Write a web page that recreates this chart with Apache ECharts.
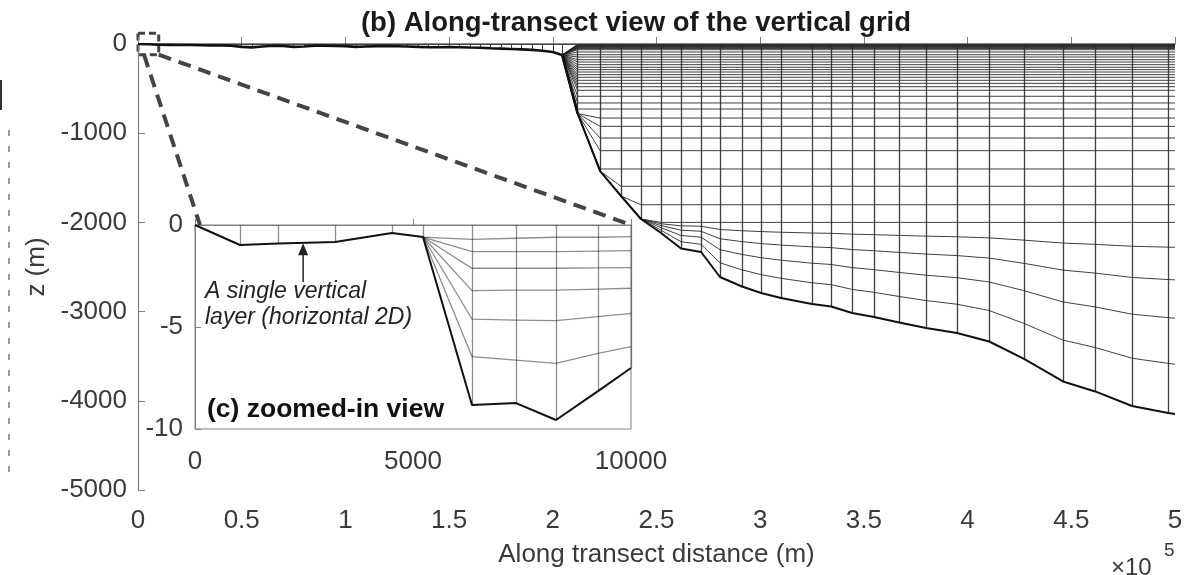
<!DOCTYPE html>
<html>
<head>
<meta charset="utf-8">
<title>Along-transect view of the vertical grid</title>
<script src="https://cdn.jsdelivr.net/npm/echarts@6/dist/echarts.min.js"></script>
<style>
	html, body { margin: 0; padding: 0; background: #fff; }
	#chart { width: 1201px; height: 575px; }
</style>
</head>
<body>
<div id="chart"></div>
<script>
// shelf part of the transect: one layer only (x in km, bottom z in m)
var shelfX = [0, 5, 10, 15, 20, 25, 30, 35, 40, 45, 50, 55, 60, 65, 70, 75, 80, 85, 90, 95, 100,
	105, 110, 115, 120, 125, 130, 135, 140, 145, 150, 155, 160, 165, 170, 175, 180, 185, 190, 195, 200, 204.5];
var shelfZ = [0, -3, -8, -10, -12, -12, -14, -15, -16, -20, -32, -38, -28, -20, -22, -32, -28, -20, -20, -22, -24,
	-32, -28, -24, -24, -26, -28, -32, -35, -36, -34, -36, -40, -42, -48, -52, -56, -60, -66, -75, -90, -123];

// slope and deep part (x in km, bottom z in m)
var deepX = [212, 222.8, 232.9, 242.5, 252.2, 261.8, 271.5, 280.6, 291.2, 300.4, 310, 325,
	334.2, 344.3, 354.9, 367, 380, 394.9, 410.4, 427.2, 446, 461.5, 479.3, 496.7];
var deepZ = [-780, -1424, -1704, -1962, -2119, -2293, -2332, -2612, -2719, -2791, -2847, -2915,
	-2943, -3015, -3060, -3122, -3184, -3240, -3335, -3531, -3783, -3895, -4058, -4136];
var endX = 500,
	endZ = -4148;

// z-levels above the sigma zone, sigma zone top and layer fractions
var zLevels = [-4, -8, -13, -18, -24, -30, -37, -44, -52, -64, -90, -120, -146, -176, -202, -232,
	-261, -288, -314, -344, -373, -407, -441, -479, -519, -586, -661, -729, -830, -923, -1054,
	-1196, -1401, -1595, -1802, -2000];
var sigmaTop = -2000;
var sigmaFrac = [0.13, 0.30, 0.50, 0.74];

var xTickLabels = ['0', '0.5', '1', '1.5', '2', '2.5', '3', '3.5', '4', '4.5', '5'];
var yTickLabels = ['-5000', '-4000', '-3000', '-2000', '-1000', '0'];

// inset (c): first 10 km (x in m, z in m)
var insetX = [0, 1032, 1904, 3211, 4518, 5229, 6353, 7362, 8280, 9243, 10000];
var insetZ = [0, -0.98, -0.91, -0.83, -0.39, -0.59, -8.82, -8.73, -9.56, -8.14, -7.01];
var insetBreak = 5;
var insetLayers = [
	[-0.70, -0.65, -0.60, -0.60, -0.57],
	[-1.31, -1.31, -1.31, -1.28, -1.26],
	[-2.12, -2.12, -2.12, -2.10, -2.09],
	[-3.22, -3.19, -3.19, -3.14, -3.10],
	[-4.61, -4.66, -4.69, -4.49, -4.33],
	[-6.45, -6.62, -6.78, -6.29, -5.96]
];
var insetTickLabels = ['0', '5000', '10000'];
var insetYLabels = ['-10', '-5', '0'];

// dashed box marking the zoomed region on the main axes
var zoomBoxX = [0, 10000],
	zoomBoxZ = [120, -120];

var font = "'Liberation Sans', Arial, Helvetica, sans-serif";
var axisGray = '#808080',
	labelGray = '#3a3a3a';

var chart = echarts.init(document.getElementById('chart'));

function shelfColumns() {
	var cols = [];
	for (var i = 0; i < shelfX.length; i++) cols.push([shelfX[i] * 1000, shelfZ[i]]);
	return cols;
}

function deepColumns() {
	var cols = [];
	for (var j = 0; j < deepX.length; j++) cols.push([deepX[j] * 1000, deepZ[j]]);
	return cols;
}

function mainLevelLines() {
	var sb = [shelfX[shelfX.length - 1] * 1000, shelfZ[shelfZ.length - 1]];
	var out = [];
	zLevels.forEach(function(z) {
		var c = [sb];
		for (var i = 0; i < deepX.length; i++) c.push([deepX[i] * 1000, Math.max(z, deepZ[i])]);
		c.push([endX * 1000, Math.max(z, endZ)]);
		out.push({ coords: c });
	});
	sigmaFrac.forEach(function(f) {
		var c = [];
		for (var i = 0; i < deepX.length; i++) {
			var h = deepZ[i];
			c.push([deepX[i] * 1000, h < sigmaTop ? sigmaTop + f * (h - sigmaTop) : h]);
		}
		c.push([endX * 1000, sigmaTop + f * (endZ - sigmaTop)]);
		out.push({ coords: c });
	});
	return out;
}

function verticals(cols) {
	return cols.map(function(p) {
		return { coords: [[p[0], 0], p] };
	});
}

function insetLayerLines() {
	var sb = [insetX[insetBreak], insetZ[insetBreak]];
	return insetLayers.map(function(row) {
		var c = [sb];
		for (var i = 0; i < row.length; i++) c.push([insetX[insetBreak + 1 + i], row[i]]);
		return { coords: c };
	});
}

var shelfCols = shelfColumns(),
	deepCols = deepColumns();
var shelfLine = shelfCols.concat([deepCols[0]]);
var deepLine = [shelfCols[shelfCols.length - 1]].concat(deepCols, [[endX * 1000, endZ]]);
var insetCols = insetX.map(function(x, i) { return [x, insetZ[i]]; });

var meshStyle = { color: '#1e1e1e', width: 1, opacity: 0.85 };

var option = {
	animation: false,
	backgroundColor: '#fff',
	title: {
		text: '(b) Along-transect view of the vertical grid',
		left: 631,
		top: 4,
		textAlign: 'center',
		textStyle: { fontFamily: font, fontSize: 27.5, fontWeight: 'bold', color: '#1a1a1a' }
	},
	grid: [{
		left: 138, right: 26, top: 44, bottom: 85
	}, {
		left: 195, top: 225, width: 436, height: 204,
		show: true, backgroundColor: '#fff', borderColor: axisGray, borderWidth: 1
	}],
	xAxis: [{
		type: 'value', gridIndex: 0, min: 0, max: 500000, interval: 50000,
		name: 'Along transect distance (m)', nameLocation: 'middle', nameGap: 52,
		nameTextStyle: { fontFamily: font, fontSize: 26, color: labelGray },
		axisLine: { show: true, lineStyle: { color: axisGray, width: 1.2 } },
		axisTick: { show: true, inside: true, length: 7, lineStyle: { color: axisGray } },
		axisLabel: {
			margin: 18, fontFamily: font, fontSize: 26, color: labelGray,
			formatter: function(v) { return xTickLabels[Math.round(v / 50000)]; }
		},
		splitLine: { show: false }
	}, {
		type: 'value', gridIndex: 1, min: 0, max: 10000, interval: 5000,
		axisLine: { show: true, lineStyle: { color: axisGray } },
		axisTick: { show: true, inside: true, length: 6, lineStyle: { color: axisGray } },
		axisLabel: {
			margin: 20, fontFamily: font, fontSize: 26, color: labelGray,
			formatter: function(v) { return insetTickLabels[Math.round(v / 5000)]; }
		},
		splitLine: { show: false }
	}],
	yAxis: [{
		type: 'value', gridIndex: 0, min: -5000, max: 0, interval: 1000,
		name: 'z (m)', nameLocation: 'middle', nameRotate: 90, nameGap: 88,
		nameTextStyle: { fontFamily: font, fontSize: 26, color: labelGray },
		axisLine: { show: true, lineStyle: { color: axisGray, width: 1.2 } },
		axisTick: { show: true, inside: true, length: 7, lineStyle: { color: axisGray } },
		axisLabel: {
			margin: 11, fontFamily: font, fontSize: 26, color: labelGray,
			formatter: function(v) { return yTickLabels[Math.round((v + 5000) / 1000)]; }
		},
		splitLine: { show: false }
	}, {
		type: 'value', gridIndex: 1, min: -10, max: 0, interval: 5,
		axisLine: { show: true, lineStyle: { color: axisGray } },
		axisTick: { show: true, inside: true, length: 6, lineStyle: { color: axisGray } },
		axisLabel: {
			margin: 12, fontFamily: font, fontSize: 26, color: labelGray,
			formatter: function(v) { return insetYLabels[Math.round((v + 10) / 5)]; }
		},
		splitLine: { show: false }
	}],
	series: [{
		name: 'levels', type: 'lines', coordinateSystem: 'cartesian2d', xAxisIndex: 0, yAxisIndex: 0,
		polyline: true, silent: true, data: mainLevelLines(), lineStyle: meshStyle
	}, {
		name: 'shelf columns', type: 'lines', coordinateSystem: 'cartesian2d', xAxisIndex: 0, yAxisIndex: 0,
		silent: true, data: verticals(shelfCols), lineStyle: meshStyle
	}, {
		name: 'deep columns', type: 'lines', coordinateSystem: 'cartesian2d', xAxisIndex: 0, yAxisIndex: 0,
		silent: true, data: verticals(deepCols), lineStyle: { color: '#2a2a2a', width: 1.3, opacity: 0.9 }
	}, {
		name: 'surface', type: 'line', xAxisIndex: 0, yAxisIndex: 0, symbol: 'none', silent: true,
		data: [[0, 0], [endX * 1000, 0]], lineStyle: { color: '#333', width: 1.5 }
	}, {
		name: 'shelf bottom', type: 'line', xAxisIndex: 0, yAxisIndex: 0, symbol: 'none', silent: true,
		data: shelfLine, lineStyle: { color: '#111', width: 2.6 }
	}, {
		name: 'bottom', type: 'line', xAxisIndex: 0, yAxisIndex: 0, symbol: 'none', silent: true,
		data: deepLine, lineStyle: { color: '#111', width: 2 }
	}, {
		name: 'inset layers', type: 'lines', coordinateSystem: 'cartesian2d', xAxisIndex: 1, yAxisIndex: 1,
		polyline: true, silent: true, data: insetLayerLines(), lineStyle: { color: '#1e1e1e', width: 1.3 }
	}, {
		name: 'inset columns', type: 'lines', coordinateSystem: 'cartesian2d', xAxisIndex: 1, yAxisIndex: 1,
		silent: true, data: verticals(insetCols), lineStyle: { color: '#1e1e1e', width: 1.3 }
	}, {
		name: 'inset bottom', type: 'line', xAxisIndex: 1, yAxisIndex: 1, symbol: 'none', silent: true,
		data: insetCols, lineStyle: { color: '#111', width: 2 }
	}]
};
chart.setOption(option);

// annotations placed from the axes' own scales
function toPx(g, x, y) {
	return chart.convertToPixel({ gridIndex: g }, [x, y]);
}
var b0 = toPx(0, zoomBoxX[0], zoomBoxZ[0]),
	b1 = toPx(0, zoomBoxX[1], zoomBoxZ[1]);
var c0 = toPx(1, 0, 0),
	c1 = toPx(1, 10000, 0);
var arrowTip = toPx(1, 2480, -0.9),
	arrowTail = toPx(1, 2480, -2.8);
var dash = { stroke: '#444', lineWidth: 4, lineDash: [13, 8] };

chart.setOption({
	graphic: [{
		type: 'rect', shape: { x: b0[0], y: b0[1], width: b1[0] - b0[0], height: b1[1] - b0[1] },
		style: { fill: 'none', stroke: '#444', lineWidth: 3, lineDash: [7, 4] }
	}, {
		type: 'line', shape: { x1: b0[0] + 6, y1: b1[1], x2: c0[0] + 5, y2: c0[1] }, style: dash
	}, {
		type: 'line', shape: { x1: b1[0], y1: b1[1], x2: c1[0], y2: c1[1] }, style: dash
	}, {
		type: 'line', shape: { x1: arrowTail[0], y1: arrowTail[1], x2: arrowTip[0], y2: arrowTip[1] + 8 },
		style: { stroke: '#222', lineWidth: 1.5 }
	}, {
		type: 'polygon',
		shape: { points: [[arrowTip[0], arrowTip[1]], [arrowTip[0] - 5, arrowTip[1] + 12], [arrowTip[0] + 5, arrowTip[1] + 12]] },
		style: { fill: '#222' }
	}, {
		type: 'text', left: 205, top: 279,
		style: {
			text: 'A single vertical\nlayer (horizontal 2D)', fontFamily: font, fontSize: 23,
			fontStyle: 'italic', lineHeight: 26, fill: '#222'
		}
	}, {
		type: 'text', left: 207, top: 396,
		style: { text: '(c) zoomed-in view', fontFamily: font, fontSize: 26.5, fontWeight: 'bold', fill: '#111' }
	}, {
		type: 'text', left: 1111, top: 556,
		style: { text: '\u00d710', fontFamily: font, fontSize: 24, fill: labelGray }
	}, {
		type: 'text', left: 1164, top: 541,
		style: { text: '5', fontFamily: font, fontSize: 19, fill: labelGray }
	}, {
		type: 'line', shape: { x1: 1, y1: 80, x2: 1, y2: 110 }, style: { stroke: '#333', lineWidth: 2 }
	}, {
		type: 'line', shape: { x1: 9, y1: 130, x2: 9, y2: 480 }, style: { stroke: '#777', lineWidth: 1.5, lineDash: [6, 10] }
	}]
});
</script>
</body>
</html>
